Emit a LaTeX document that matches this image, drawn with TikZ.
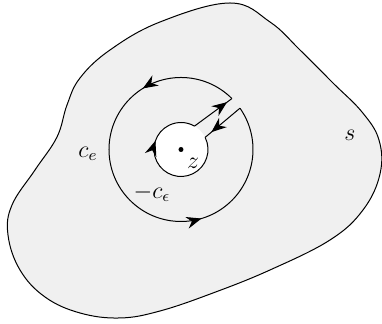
\documentclass[tikz,border=0pt]{standalone}
\usetikzlibrary{arrows.meta,decorations.markings}
\begin{document}
\begin{tikzpicture}[x=0.5pt,y=0.5pt,
  curve/.style={line width=0.5pt},
  lbl/.style={font=\fontsize{11.5}{14}\selectfont},
  arrowat/.style={postaction={decorate,decoration={markings,mark=at position #1 with {\arrow{Stealth[length=7.5pt,width=6pt,inset=2.5pt]}}}}}]
\useasboundingbox (0,0) rectangle (382,324);
\draw[curve,fill=gray!12] plot[smooth cycle,tension=0.65] coordinates {
 (230,321) (270,302) (300,274) (333,241) (362,212) (379,184) (380,150)
 (363,114) (330,84) (270,54) (213,31) (160,13) (120,6) (80,11) (45,27)
 (20,54) (8,89) (12,119) (35,154) (57,187) (67,219) (80,246) (110,274) (160,302)};
\coordinate (c) at (181,174.5);
\fill[white] (c) circle[radius=27];
\path (c) ++(45:72) coordinate (Q1) (c) ++(35:72) coordinate (Q2)
      (c) ++(26.6:27) coordinate (P2) (c) ++(60:27) coordinate (P1);
\draw[curve,arrowat=0.22,arrowat=0.69] (Q1) arc[start angle=45,end angle=395,radius=72];
\draw[curve,arrowat=0.82] (Q2) -- (P2);
\draw[curve,arrowat=0.69] (P2) arc[start angle=26.6,end angle=-300,radius=27];
\draw[curve,arrowat=0.87] (P1) -- (Q1);
\fill (c) circle[radius=2.5];
\node[lbl] (z) at (193,161) {$z$};
\node[lbl] (ce) at (88,170) {$c_e$};
\node[lbl] (mce) at (152,131) {$-c_\epsilon$};
\node[lbl] (s) at (350,189) {$s$};
\end{tikzpicture}
\end{document}
